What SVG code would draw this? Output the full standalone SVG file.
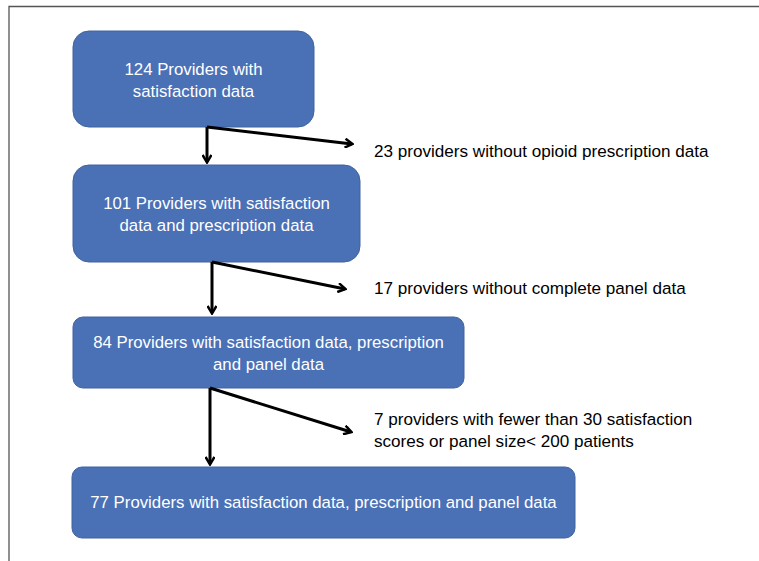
<svg xmlns="http://www.w3.org/2000/svg" width="759" height="561" viewBox="0 0 759 561">
<style>
.box{fill:#4a70b6;stroke:#40649f;stroke-width:1}
.bt{fill:#fff;font-family:"Liberation Sans",Arial,sans-serif;font-size:16.8px;text-anchor:middle}
.lt{fill:#000;font-family:"Liberation Sans",Arial,sans-serif;font-size:17.1px}
.c{fill:none;stroke:#000;stroke-width:3}
</style>
<defs>
<marker id="ah" markerWidth="10" markerHeight="10" refX="8" refY="5" orient="auto" markerUnits="userSpaceOnUse">
<path d="M1,0.5 L8.5,5 L1,9.5" fill="none" stroke="#000" stroke-width="2.5"/>
</marker>
</defs>
<rect width="759" height="561" fill="#fff"/>
<path d="M9,561 V6.5 H759" fill="none" stroke="#555" stroke-width="1.3"/>
<g id="n1"><rect class="box" x="73" y="31" width="241" height="96" rx="16"/>
<text class="bt" x="193.5" y="75">124 Providers with</text>
<text class="bt" x="193.5" y="97">satisfaction data</text></g>
<g id="n2"><rect class="box" x="73" y="165" width="287" height="97" rx="16"/>
<text class="bt" x="216.5" y="209">101 Providers with satisfaction</text>
<text class="bt" x="216.5" y="231">data and prescription data</text></g>
<g id="n3"><rect class="box" x="73" y="317" width="391" height="71" rx="10"/>
<text class="bt" x="268.5" y="348">84 Providers with satisfaction data, prescription</text>
<text class="bt" x="268.5" y="370">and panel data</text></g>
<g id="n4"><rect class="box" x="72" y="467" width="503" height="71" rx="10"/>
<text class="bt" x="323.5" y="508">77 Providers with satisfaction data, prescription and panel data</text></g>
<g id="e1"><text class="lt" x="374" y="157">23 providers without opioid prescription data</text></g>
<g id="e2"><text class="lt" x="374" y="294">17 providers without complete panel data</text></g>
<g id="e3"><text class="lt" x="374" y="425">7 providers with fewer than 30 satisfaction</text>
<text class="lt" x="374" y="447">scores or panel size&lt; 200 patients</text></g>
<g id="connectors">
<path class="c" d="M207,127 V162" marker-end="url(#ah)"/>
<path class="c" d="M207,127 L352,144" marker-end="url(#ah)"/>
<path class="c" d="M212,262 V313" marker-end="url(#ah)"/>
<path class="c" d="M212,262 L345,289" marker-end="url(#ah)"/>
<path class="c" d="M210,388 V464" marker-end="url(#ah)"/>
<path class="c" d="M210,388 L351,432" marker-end="url(#ah)"/>
</g>
</svg>
